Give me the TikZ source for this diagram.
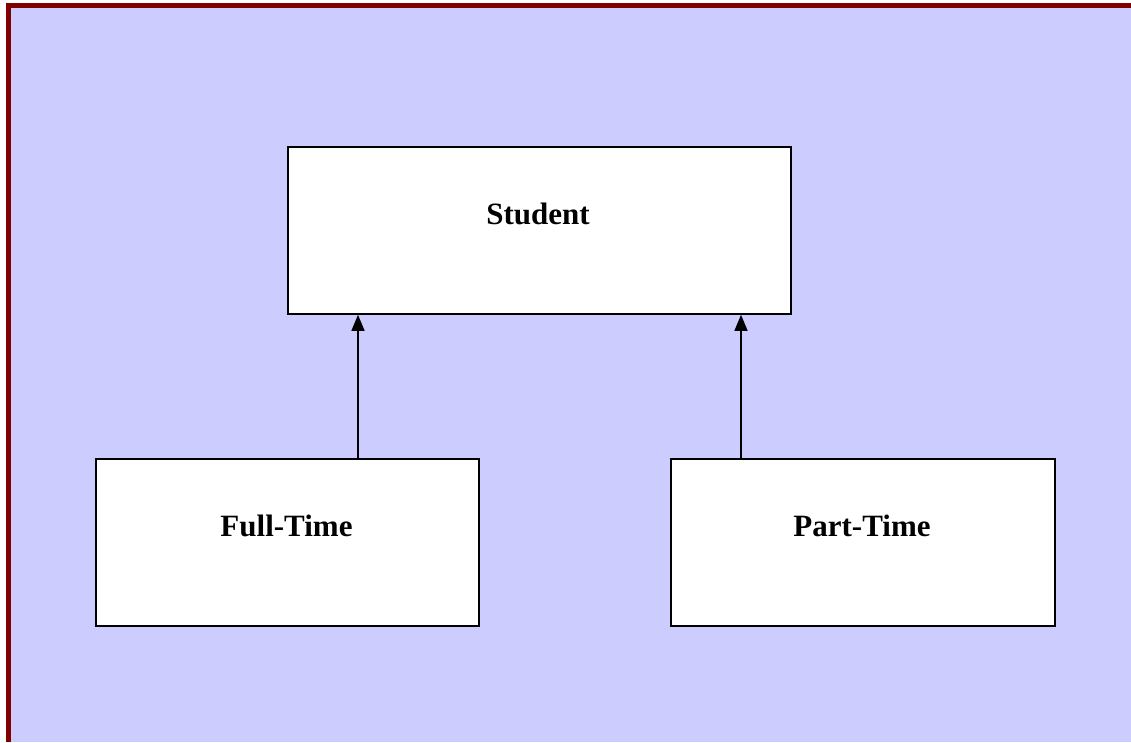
\documentclass[tikz,border=0pt]{standalone}
\usepackage{fontspec}
\setmainfont{Liberation Serif}
\usetikzlibrary{arrows.meta}
\definecolor{panel}{HTML}{CCCCFF}
\definecolor{frame}{HTML}{800000}
\tikzset{
  classbox/.style={draw=black, line width=1.8pt, fill=white},
  classname/.style={anchor=base, font=\bfseries\fontsize{31}{37}\selectfont},
  inherit/.style={line width=1.4pt, -{Triangle[width=13pt,length=16pt]}}
}
\begin{document}
\begin{tikzpicture}[x=1pt,y=-1pt]
  \useasboundingbox (0,0) rectangle (1131,742);
  % page background and frame
  \fill[white] (0,0) rectangle (1131,742);
  \fill[panel] (6,3) rectangle (1131,742);
  \fill[frame] (6,3) rectangle (1131,7.5);
  \fill[frame] (6,3) rectangle (10.5,742);
  % classes
  \node[classbox, minimum width=503pt, minimum height=167pt, anchor=north west] (student) at (287,146) {};
  \node[classbox, minimum width=383pt, minimum height=167pt, anchor=north west] (full) at (95,458) {};
  \node[classbox, minimum width=384pt, minimum height=167pt, anchor=north west] (part) at (670,458) {};
  \node[classname] (studentname) at (538,224) {Student};
  \node[classname] (fullname) at (286.5,536) {Full-Time};
  \node[classname] (partname) at (862,536) {Part-Time};
  % generalisation arrows
  \draw[inherit] (full.north west -| 358,0) -- (student.south west -| 358,0);
  \draw[inherit] (part.north west -| 741,0) -- (student.south west -| 741,0);
\end{tikzpicture}
\end{document}
